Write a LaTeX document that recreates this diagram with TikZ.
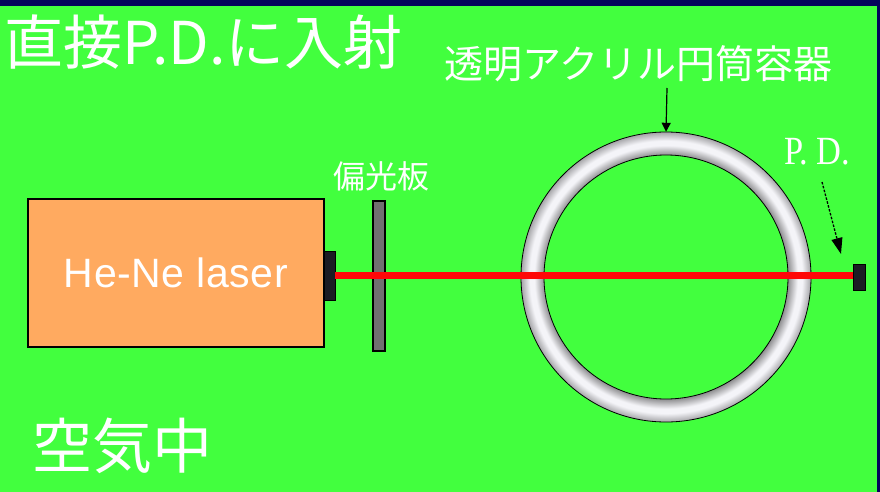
\documentclass[tikz,border=0pt]{standalone}
\usepackage{fontspec}
\usetikzlibrary{arrows.meta}
\newfontfamily\cjk{Noto Sans CJK JP}
\newfontfamily\lasersans{Liberation Sans}
\newfontfamily\pdserif{Liberation Serif}

\definecolor{bggreen}{RGB}{66,255,62}
\definecolor{navy}{RGB}{4,4,92}
\definecolor{laserbody}{RGB}{255,170,96}
\definecolor{aperture}{RGB}{28,28,36}
\definecolor{polgray}{RGB}{112,112,112}
\definecolor{beamred}{RGB}{255,8,8}
\definecolor{ringedge}{RGB}{140,140,142}
\definecolor{ringlight}{RGB}{244,244,248}
\definecolor{ringouter}{RGB}{165,165,168}

% acrylic tube wall: grey at both walls, bright in the middle of the band
\pgfdeclareradialshading{ringshade}{\pgfpoint{0bp}{0bp}}{%
  color(0bp)=(ringedge); color(21bp)=(ringedge); color(22.7bp)=(ringlight);
  color(23.5bp)=(ringlight); color(25bp)=(ringouter); color(50bp)=(ringouter)}

\tikzset{
  whitetext/.style={text=white, inner sep=0pt, anchor=west},
  laserbox/.style={draw=black, line width=2.5pt, fill=laserbody, inner sep=0pt,
    minimum width=296pt, minimum height=148pt, text=white,
    font=\lasersans\fontsize{41}{41}\selectfont},
  blackblock/.style={fill=aperture, draw=black, line width=0.6pt, inner sep=0pt},
  polplate/.style={fill=polgray, draw=black, line width=1.2pt, inner sep=0pt,
    minimum width=12pt, minimum height=150pt},
  beam/.style={draw=beamred, line width=6.5pt},
  pointer/.style={draw=black, line width=1.2pt, -{Triangle[length=9pt,width=9pt]}},
  pdpointer/.style={draw=black, line width=1.3pt, dash pattern=on 2.5pt off 1.5pt,
    -{Triangle[length=16pt,width=11pt]}},
}

\begin{document}
\begin{tikzpicture}[x=1pt,y=-1pt]
  % background
  \fill[bggreen] (0,0) rectangle (880,492);
  \useasboundingbox (0,0) rectangle (880,492);
  \fill[navy] (0,0) rectangle (880,6);
  \fill[navy] (877,0) rectangle (880,492);

  % titles and labels
  \node[whitetext, font=\cjk\fontsize{59}{59}\selectfont] (title) at (4,42) {直接P.D.に入射};
  \node[whitetext, font=\cjk\fontsize{39}{39}\selectfont] (tubelabel) at (444,64) {透明アクリル円筒容器};
  \node[whitetext, font=\cjk\fontsize{32}{32}\selectfont] (pollabel) at (333,176) {偏光板};
  \node[whitetext, font=\cjk\fontsize{60}{60}\selectfont] (medium) at (32,446) {空気中};
  \node[whitetext, font=\pdserif\fontsize{40}{40}\selectfont] (pdlabel) at (784,152) {\scalebox{0.86}[1]{P. D.}};

  % He-Ne laser with its output aperture
  \node[laserbox] (laser) at (176,273) {\addfontfeature{LetterSpace=1.5}He-Ne laser};
  \node[blackblock, minimum width=11pt, minimum height=49pt] (ap) at (329.5,275.5) {};

  % polarizer
  \node[polplate] (pol) at (379,276) {};

  % transparent acrylic cylinder
  \node[circle, inner sep=0pt, minimum size=290pt] (ring) at (666,277) {};
  \shade[shading=ringshade, even odd rule, draw=black, line width=0.8pt]
    (ring.center) circle (145pt) (ring.center) circle (122pt);

  % photodiode
  \node[blackblock, minimum width=12pt, minimum height=26pt] (pd) at (859,277.5) {};

  % laser beam
  \draw[beam] (ap.east) -- (ap.east -| pd.west);

  % pointers
  \coordinate (tubetail) at (667,88);
  \draw[pointer] (tubetail) -- (ring.north);
  \coordinate (pdtail) at (822,182);
  \coordinate (pdtip) at (841,254);
  \draw[pdpointer] (pdtail) -- (pdtip);
\end{tikzpicture}
\end{document}
